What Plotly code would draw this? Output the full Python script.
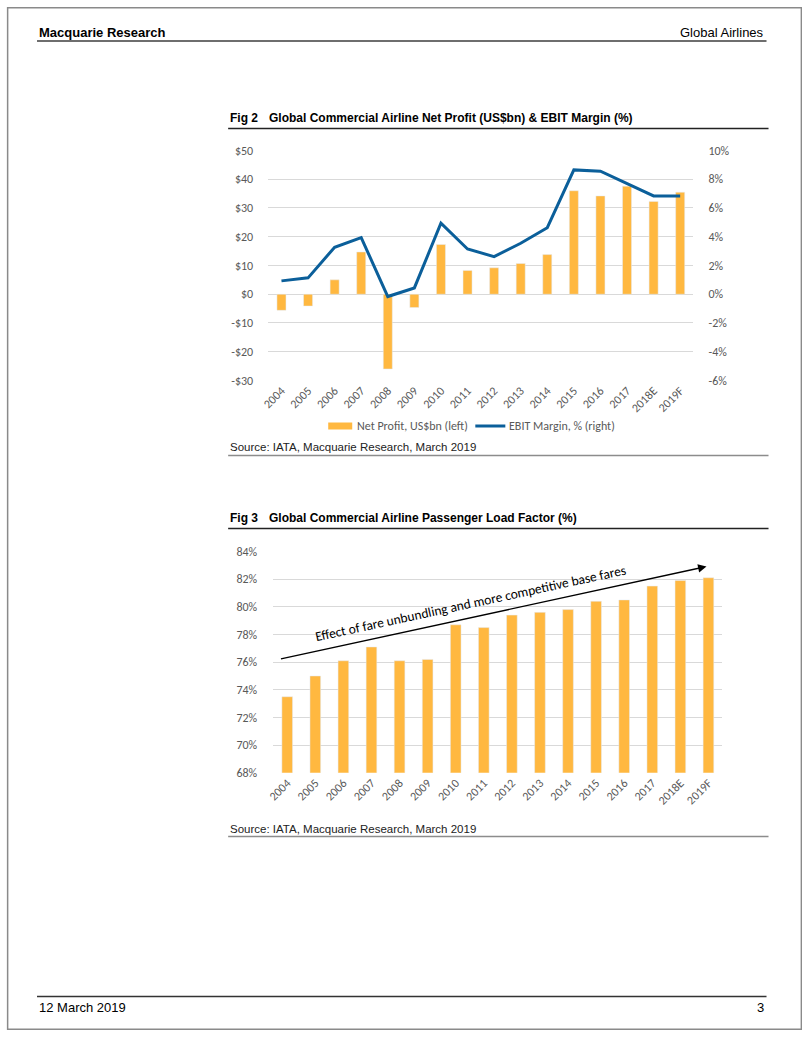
import plotly.graph_objects as go

W, H = 802, 1037

years = ["2004", "2005", "2006", "2007", "2008", "2009", "2010", "2011", "2012",
         "2013", "2014", "2015", "2016", "2017", "2018E", "2019F"]
net_profit = [-5.6, -4.1, 5.0, 14.7, -26.0, -4.6, 17.3, 8.3, 9.2,
              10.7, 13.8, 36.0, 34.2, 37.6, 32.3, 35.5]
ebit_margin = [0.93, 1.14, 3.27, 3.94, -0.16, 0.44, 4.94, 3.15, 2.62,
               3.55, 4.63, 8.65, 8.56, 7.72, 6.84, 6.84]
load_factor = [73.5, 75.0, 76.1, 77.1, 76.1, 76.2, 78.7, 78.5, 79.4,
               79.6, 79.8, 80.4, 80.5, 81.5, 81.9, 82.1]

left_ticks = [50, 40, 30, 20, 10, 0, -10, -20, -30]
left_labels = ["$50", "$40", "$30", "$20", "$10", "$0", "-$10", "-$20", "-$30"]
right_ticks = [10, 8, 6, 4, 2, 0, -2, -4, -6]
right_labels = ["10%", "8%", "6%", "4%", "2%", "0%", "-2%", "-4%", "-6%"]
lf_ticks = [84, 82, 80, 78, 76, 74, 72, 70, 68]
lf_labels = ["84%", "82%", "80%", "78%", "76%", "74%", "72%", "70%", "68%"]

ORANGE = "#FFB840"
BLUE = "#0B5F9A"
GRID = "#D9D9D9"
TICKC = "#595959"
CFONT = "Carlito, Lato, sans-serif"
AFONT = "Liberation Sans, Arial, sans-serif"

# page-pixel -> paper fraction (compensating the viewer's page offset/scale)
SX, OX = 0.9906, 7.0
SY, OY = 0.9865, 6.5


def px(x):
    return ((x - OX) / SX) / W


def py(y):
    return 1 - ((y - OY) / SY) / H


def pxl(d):
    return d / SX


def pyl(d):
    return d / SY


fig = go.Figure()
fig.add_trace(go.Bar(x=years, y=net_profit, marker_color=ORANGE, width=0.34,
                     name="Net Profit, US$bn (left)", xaxis="x", yaxis="y"))
fig.add_trace(go.Scatter(x=years, y=ebit_margin, mode="lines",
                         line=dict(color=BLUE, width=3),
                         name="EBIT Margin, % (right)", xaxis="x", yaxis="y2"))
fig.add_trace(go.Bar(x=years, y=load_factor, marker_color=ORANGE, width=0.38,
                     name="Passenger Load Factor", xaxis="x2", yaxis="y3"))

axis_font = dict(family=CFONT, size=12, color=TICKC)

fig.update_layout(
    width=W, height=H, autosize=False, margin=dict(l=0, r=0, t=0, b=0),
    paper_bgcolor="white", plot_bgcolor="white", showlegend=False,
    xaxis=dict(domain=[px(268), px(693)], anchor="y", tickangle=-45,
               tickfont=axis_font, showgrid=False, showline=False, ticks=""),
    yaxis=dict(domain=[py(380), py(150)], range=[-30, 50], tickvals=left_ticks,
               ticktext=left_labels, tickfont=axis_font, gridcolor=GRID,
               gridwidth=1, zeroline=False, showline=False, ticks="",
               ticklabelstandoff=14),
    yaxis2=dict(overlaying="y", side="right", anchor="x", range=[-6, 10],
                tickvals=right_ticks, ticktext=right_labels, tickfont=axis_font,
                showgrid=False, zeroline=False, showline=False, ticks="",
                ticklabelstandoff=14),
    xaxis2=dict(domain=[px(273), px(722)], anchor="y3", tickangle=-45,
                tickfont=axis_font, showgrid=False, showline=False, ticks=""),
    yaxis3=dict(domain=[py(772.3), py(551)], range=[68, 84], tickvals=lf_ticks,
                ticktext=lf_labels, tickfont=axis_font, gridcolor=GRID,
                gridwidth=1, zeroline=False, showline=False, ticks="",
                ticklabelstandoff=10),
)

shapes = []
# page border
shapes.append(dict(type="rect", xref="paper", yref="paper", x0=0.0008, x1=0.9992,
                   y0=0.0008, y1=0.9992, line=dict(color="#8A8A8A", width=1.5)))
# header / footer rules
shapes.append(dict(type="line", xref="paper", yref="paper", x0=px(37), x1=px(766),
                   y0=py(40.5), y1=py(40.5), line=dict(color="#6E6E6E", width=2)))
shapes.append(dict(type="line", xref="paper", yref="paper", x0=px(37), x1=px(766),
                   y0=py(996), y1=py(996), line=dict(color="#333333", width=1.5)))
# figure title rules
for yy in (128, 528):
    shapes.append(dict(type="line", xref="paper", yref="paper", x0=px(228), x1=px(768),
                       y0=py(yy), y1=py(yy), line=dict(color="#222222", width=1.5)))
# source rules
for yy in (455, 836):
    shapes.append(dict(type="line", xref="paper", yref="paper", x0=px(228), x1=px(768),
                       y0=py(yy), y1=py(yy), line=dict(color="#8C8C8C", width=1.5)))
# legend symbols
shapes.append(dict(type="rect", xref="paper", yref="paper", x0=px(328), x1=px(352),
                   y0=py(429), y1=py(422), fillcolor=ORANGE, line=dict(width=0)))
shapes.append(dict(type="line", xref="paper", yref="paper", x0=px(475), x1=px(505),
                   y0=py(425.5), y1=py(425.5), line=dict(color=BLUE, width=3)))

ann = []


def text(x, y, s, size=12, family=AFONT, color="#000000", bold=False, xanchor="left", angle=0):
    ann.append(dict(xref="paper", yref="paper", x=px(x), y=py(y), text=("<b>%s</b>" % s) if bold else s,
                    showarrow=False, xanchor=xanchor, yanchor="middle", textangle=angle,
                    font=dict(family=family, size=size, color=color)))


text(37, 32, "Macquarie Research", size=13, bold=True)
text(765, 32, "Global Airlines", size=13, xanchor="right")
text(37, 1007, "12 March 2019", size=13)
text(765, 1007, "3", size=13, xanchor="right")

text(228, 118, "Fig 2", size=12, bold=True)
text(267, 118, "Global Commercial Airline Net Profit (US$bn) & EBIT Margin (%)", size=12, bold=True)
text(228, 518, "Fig 3", size=12, bold=True)
text(267, 518, "Global Commercial Airline Passenger Load Factor (%)", size=12, bold=True)

text(228, 447, "Source: IATA, Macquarie Research, March 2019", size=11.5, color="#222222")
text(228, 829, "Source: IATA, Macquarie Research, March 2019", size=11.5, color="#222222")

text(355, 425.5, "Net Profit, US$bn (left)", size=12, family=CFONT, color=TICKC)
text(507, 425.5, "EBIT Margin, % (right)", size=12, family=CFONT, color=TICKC)

# trend arrow and label
ann.append(dict(xref="paper", yref="paper", x=px(706), y=py(566), axref="pixel", ayref="pixel",
                ax=pxl(283 - 706), ay=pyl(657.5 - 566), text="", showarrow=True, arrowhead=2,
                arrowsize=1.2, arrowwidth=1.4, arrowcolor="#000000"))
text(470, 603, "Effect of fare unbundling and more competitive base fares", size=13.5,
     family=CFONT, color="#000000", xanchor="center", angle=-12.2)

fig.update_layout(shapes=shapes, annotations=ann)
fig.write_html("out.html")
